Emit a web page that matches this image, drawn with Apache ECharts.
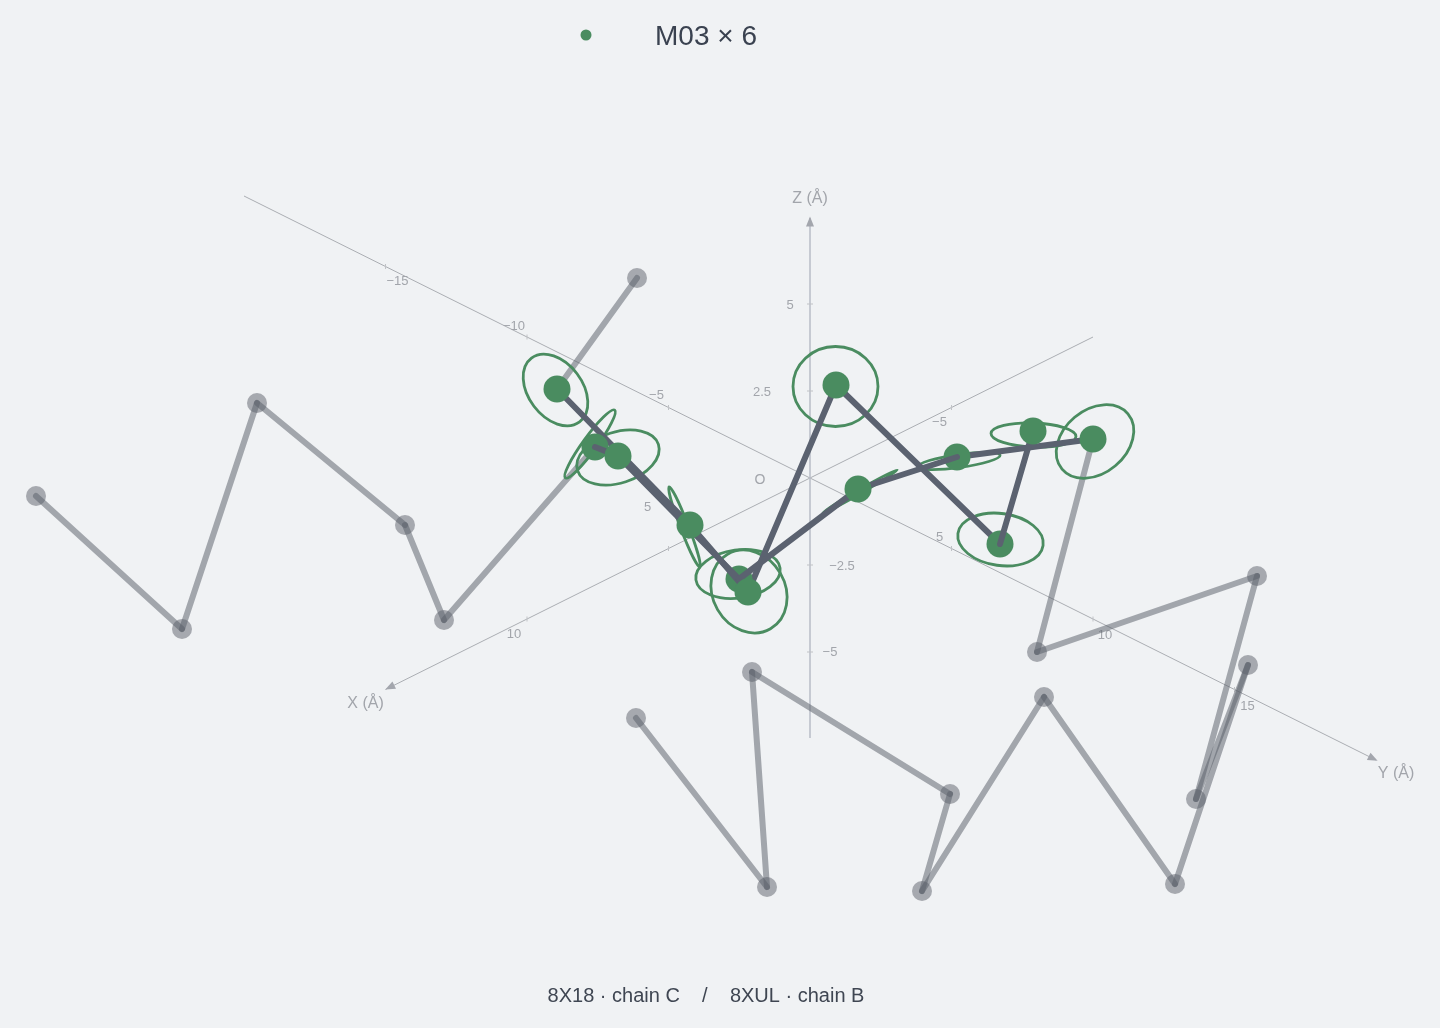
<!DOCTYPE html>
<html>
<head>
<meta charset="utf-8">
<style>html,body{margin:0;padding:0;background:#f0f2f4}#c{width:1440px;height:1028px}</style>
<script src="https://cdn.jsdelivr.net/npm/echarts@6/dist/echarts.min.js"></script>
</head>
<body>
<div id="c"></div>
<script>
// ---- data: view-plane coordinates [u, v] of each residue, origin at the axes' O
const chainA = [[-25.3,9.1],[-12.0,-4.5],[-6.2,-11.2],[2.6,9.5],[19.0,-6.4],[22.3,4.9]];
const chainB = [[-21.5,3.3],[-19.2,2.4],[-7.1,-9.9],[4.8,-0.9],[14.7,2.3],[28.3,4.1]];
const leadA = [[-17.3,20.2]];
const leadB = [[-77.4,-1.6],[-62.8,-14.9],[-55.3,7.7],[-40.5,-4.5],[-36.6,-14.0]];
const tailB = [[22.7,-17.2],[44.7,-9.6],[38.6,-31.9],[43.8,-18.5],[36.5,-40.4],[23.4,-21.7],[11.2,-41.1],[14.0,-31.4],[-5.8,-19.2],[-4.3,-40.7],[-17.4,-23.8]];
// thermal ellipses: [u, v, semi-major, semi-minor, tilt degrees]
const ellipses = [
  [-25.45,9.0,4.0,2.7,-53],[-22.0,3.6,4.2,0.7,54],[-19.2,2.25,4.25,2.55,18],
  [-12.55,-4.7,4.3,0.4,-69],[-7.2,-9.4,4.25,2.4,8],[-6.1,-11.15,4.3,3.63,-60],
  [2.55,9.35,4.25,4.0,0],[5.0,-1.15,4.3,0.2,30],[14.9,1.9,4.15,0.65,8],
  [22.35,4.5,4.25,1.2,-2],[28.5,3.85,4.3,3.17,40],[19.05,-5.95,4.3,2.6,-8]
];
const xTicks = [-5,5,10];
const yTicks = [-15,-10,-5,5,10,15];
const zTicks = [5,2.5,-2.5,-5];
const legendName = 'M03 × 6';
const caption = '8X18 · chain C    /    8XUL · chain B';

// ---- projection of the three Å axes on the view plane
const O = [0,0.2];
const proj = (x,y,z) => [O[0] + (-2.83*x + 2.83*y), O[1] + (-1.41*x - 1.41*y + 3.48*z)];
const xRange=[-10,15], yRange=[-20,20], zRange=[-7.47,7.47];

// ---- styles
const GREEN='#4a8c60', DARK='#5b6270', GRAY='rgba(91,96,106,0.52)', MARK='rgba(91,96,106,0.5)';
const AXIS='#abaeb3', TICK='#c0c2c6', ZAXIS='#b9bdc7', TXT='#a2a5ab', FONT='"Liberation Sans", Arial, sans-serif';
// label offsets in pixels, by tick
const xOff={'-5':[-12,15],'5':[-21,-41],'10':[-13,15]};
const yOff={'-15':[12,15],'-10':[-13,-11],'-5':[-12,-12],'5':[-12,-11],'10':[12,16],'15':[13,17]};
const zOff={'5':[-20,1],'2.5':[-48,1],'-2.5':[32,1],'-5':[20,0]};

const segs = p => p.slice(0,-1).map((a,i)=>[a[0],a[1],p[i+1][0],p[i+1][1]]);
const pick = (p,idx) => idx.map(i=>[p[i][0],p[i][1],p[i+1][0],p[i+1][1]]);

function segSeries(data,color,width,z,cap){
  return {type:'custom',silent:true,z,clip:false,coordinateSystem:'cartesian2d',
    data,encode:{x:[0,2],y:[1,3]},
    renderItem(p,api){
      const a=api.coord([api.value(0),api.value(1)]),b=api.coord([api.value(2),api.value(3)]);
      return {type:'line',shape:{x1:a[0],y1:a[1],x2:b[0],y2:b[1]},style:{stroke:color,lineWidth:width,lineCap:cap||'round',fill:null}};
    }};
}
function dots(data,color,size,z,name){
  return {type:'scatter',name,data,symbol:'circle',symbolSize:size,z,silent:true,itemStyle:{color,opacity:1}};
}
function axisLine(a,b,color,w){ return segSeries([[a[0],a[1],b[0],b[1]]],color,w,1,'butt'); }
function arrow(pos,rot){ return {type:'scatter',data:[pos],symbol:'triangle',symbolSize:[8,10],symbolRotate:rot,z:1,silent:true,itemStyle:{color:'#a3a6ad',opacity:1}}; }
function texts(items,size,z){
  return {type:'custom',silent:true,z:z||1,clip:false,coordinateSystem:'cartesian2d',
    data:items.map(t=>[t.pos[0],t.pos[1]]),encode:{x:0,y:1},
    renderItem(p,api){
      const it=items[p.dataIndex],c=api.coord([api.value(0),api.value(1)]);
      return {type:'text',x:c[0]+it.off[0],y:c[1]+it.off[1],
        style:{text:it.text,fill:TXT,font:size+'px '+FONT,textAlign:'center',textVerticalAlign:'middle'}};
    }};
}
function ticks(positions,dx,dy){
  return {type:'custom',silent:true,z:1,clip:false,coordinateSystem:'cartesian2d',
    data:positions,encode:{x:0,y:1},
    renderItem(p,api){
      const c=api.coord([api.value(0),api.value(1)]);
      return {type:'line',shape:{x1:c[0]-dx,y1:c[1]-dy,x2:c[0]+dx,y2:c[1]+dy},style:{stroke:TICK,lineWidth:1}};
    }};
}
const label = v => (v<0?'\u2212'+(-v):''+v);
const xPos=xTicks.map(t=>proj(t,0,0)), yPos=yTicks.map(t=>proj(0,t,0)), zPos=zTicks.map(t=>proj(0,0,t));

const option={
  backgroundColor:'#f0f2f4',animation:false,
  grid:{left:0,top:0,width:1440,height:1028,containLabel:false},
  xAxis:{type:'value',min:-81,max:63,show:false},
  yAxis:{type:'value',min:-54.8,max:48,show:false},
  legend:{data:[legendName],left:575.5,top:18,icon:'circle',itemWidth:128,itemHeight:11,selectedMode:false,
    formatter:n=>'{a|'+n+'}',
    textStyle:{fontSize:28,color:'#3a4250',fontFamily:FONT,
      rich:{a:{fontSize:28,color:'#3a4250',fontFamily:FONT,padding:[4,0,0,0]}}}},
  title:{text:caption,left:701,top:981,textAlign:'center',textStyle:{fontSize:20,fontWeight:'normal',color:'#3f4652',fontFamily:FONT}},
  series:[
    axisLine(proj(xRange[0],0,0),proj(xRange[1],0,0),AXIS,1),
    axisLine(proj(0,yRange[0],0),proj(0,yRange[1],0),AXIS,1),
    axisLine(proj(0,0,zRange[0]),proj(0,0,zRange[1]),ZAXIS,1.5),
    arrow(proj(xRange[1]-0.15,0,0),116.5),
    arrow(proj(0,yRange[1]-0.1,0),-116.5),
    arrow(proj(0,0,zRange[1]-0.1),0),
    ticks(xPos,0,2.5),ticks(yPos,0,2.5),ticks(zPos,3,0),
    texts(xTicks.map((t,i)=>({pos:xPos[i],off:xOff[t],text:label(t)})),13),
    texts(yTicks.map((t,i)=>({pos:yPos[i],off:yOff[t],text:label(t)})),13),
    texts(zTicks.map((t,i)=>({pos:zPos[i],off:zOff[t],text:label(t)})),13),
    texts([{pos:proj(0,0,0),off:[-50,2],text:'O'}],14),
    texts([{pos:proj(0,0,zRange[1]),off:[0,-19],text:'Z (Å)'},
           {pos:proj(xRange[1],0,0),off:[-20,14],text:'X (Å)'},
           {pos:proj(0,yRange[1],0),off:[20,14],text:'Y (Å)'}],16),
    // gray flanks
    dots([...leadA,...leadB,...tailB],MARK,20,2),
    segSeries([
      ...segs([...leadB,chainB[0]]),
      ...segs([leadA[0],chainA[0]]),
      ...segs([chainB[5],...tailB])
    ],GRAY,6,3),
    // ellipses
    {type:'custom',silent:true,z:4,clip:false,coordinateSystem:'cartesian2d',
      data:ellipses,encode:{x:0,y:1},
      renderItem(p,api){
        const c=api.coord([api.value(0),api.value(1)]),s=api.size([1,1]);
        return {type:'ellipse',x:c[0],y:c[1],rotation:api.value(4)*Math.PI/180,
          shape:{cx:0,cy:0,rx:api.value(2)*s[0],ry:api.value(3)*s[1]},
          style:{stroke:GREEN,lineWidth:2.8,fill:null}};
      }},
    // chain layers: lines passing under all residues
    segSeries([...pick(chainA,[0,2,3])],DARK,6,5),
    segSeries([...pick(chainB,[4])],DARK,6,5),
    // residues at the back
    dots([chainB[2],chainB[0],chainB[4],chainA[4]],GREEN,27,6),
    // lines over those residues
    segSeries([...pick(chainA,[1,4])],DARK,6,7),
    segSeries([...pick(chainB,[0,1,2,3])],DARK,6,7),
    // residues at the front
    dots([chainA[0],chainA[1],chainA[2],chainA[3],chainA[5],chainB[1],chainB[3],chainB[5]],GREEN,27,8,legendName)
  ]
};
const chart=echarts.init(document.getElementById('c'));
chart.setOption(option);
</script>
</body>
</html>
